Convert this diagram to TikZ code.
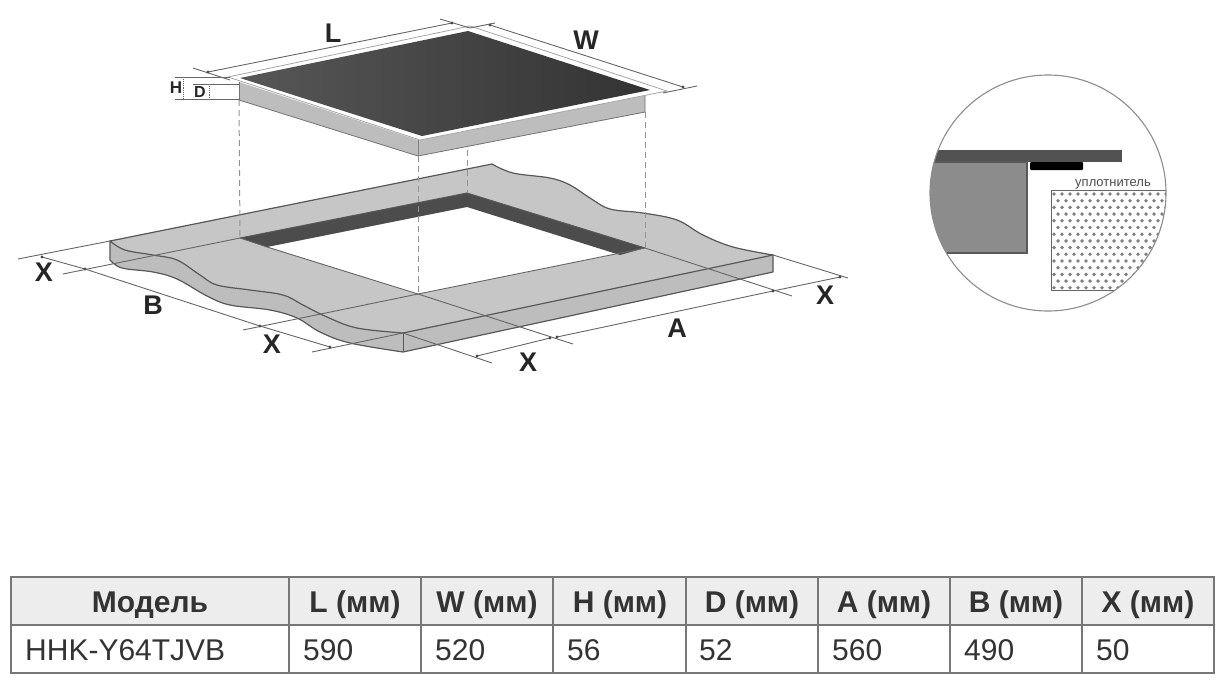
\documentclass[tikz,border=0pt]{standalone}
\usepackage{fontspec}
\setmainfont{Liberation Sans}
\definecolor{top}{HTML}{C6C6C6}
\definecolor{side}{HTML}{BDBDBD}
\definecolor{edge}{HTML}{585858}
\definecolor{dimc}{HTML}{666666}
\definecolor{wall}{HTML}{4C4C4C}
\definecolor{grid}{HTML}{777777}
\definecolor{head}{HTML}{EDEDED}
\definecolor{ink}{HTML}{333333}
\tikzset{
  dimline/.style={draw=dimc,line width=0.9pt},
  dropline/.style={draw=gray!85,line width=1pt,dash pattern=on 6pt off 4pt},
  slabedge/.style={draw=edge,line width=1.2pt,line join=round},
  dimlabel/.style={font=\bfseries\fontsize{27}{27}\selectfont,text=black!85,inner sep=0pt,draw=none},
  headcell/.style={font=\bfseries\fontsize{30}{30}\selectfont,text=ink,inner sep=0pt,anchor=base},
  bodycell/.style={font=\fontsize{30}{30}\selectfont,text=ink,inner sep=0pt,anchor=base west}
}
\begin{document}
\begin{tikzpicture}[x=1pt,y=-1pt]
\useasboundingbox (0,0) rectangle (1218,681);
% --- worktop ---
\draw[slabedge,fill=side] (110,241) -- (110,260) -- plot[smooth,tension=0.6] coordinates {(110,260) (122,268) (153,272) (177,279) (207,296) (230,305) (270,310) (297,318) (320,332) (350,343) (403,352)} -- (773,272) -- (773,255) -- cycle;
\draw[slabedge,fill=top] (110,241) -- plot[smooth,tension=0.6] coordinates {(110,241) (125,250) (153,255) (177,260) (200,275) (217,285) (250,290) (283,295) (303,305) (327,317) (357,328) (403,333)} -- (773,255) -- plot[smooth,tension=0.6] coordinates {(773,255) (733,247) (703,235) (677,220) (643,213) (610,209) (590,198) (570,185) (550,178) (513,173) (492,164)} -- cycle;
\draw[draw=edge,line width=1pt] (403,333) -- (403,352);
% hole
\fill[white] (240,238) -- (467,193) -- (645,248) -- (418,294) -- cycle;
\fill[wall] (240,238) -- (467,193) -- (467,207) -- (267,247) -- cycle;
\fill[wall] (467,193) -- (645,248) -- (620,255) -- (467,207) -- cycle;
\draw[draw=edge,line width=1pt] (240,238) -- (467,193) -- (645,248);
% extension lines over the worktop
\draw[dimline] (240,238) -- (63,274);
\draw[dimline] (645,248) -- (418,294) -- (243,330);
\draw[dimline] (403,333) -- (312,352);
\draw[dimline] (267,247) -- (418,294) -- (573,344);
\draw[dimline] (240,238) -- (267,247);
\draw[dimline] (645,248) -- (792,296);
\draw[dimline] (403,333) -- (492,363);
\draw[dimline] (773,255) -- (848,278);
\draw[dimline] (110,241) -- (18,259);
% dimension lines below
\draw[dimline] (557,337) -- (773,291);
\draw[dimline] (773,291) -- (840,277);
\draw[dimline] (477,356) -- (550,338);
\draw[dimline] (85,269) -- (260,326);
\draw[dimline] (42,257) -- (85,269);
\draw[dimline] (260,326) -- (330,347);
% --- hob ---
\draw[draw=none,fill=side] (239,82) -- (418,140) -- (645,95) -- (645,112) -- (418,156) -- (239,100) -- cycle;
\draw[draw=gray!90!black,line width=0.8pt] (239,100) -- (418,156) -- (645,112) -- (645,95);
\draw[draw=gray!90!black,line width=0.8pt] (239,82) -- (239,100);
\draw[draw=gray,line width=0.8pt] (418,140) -- (418,156);
\fill[white,draw=gray!70,line width=0.8pt] (228,77) -- (470,26) -- (667,91) -- (420,140) -- cycle;
\shade[left color=black!66,right color=black!80] (240,78) -- (468,31) -- (650,90) -- (422,136) -- cycle;
% drop lines
\draw[dropline] (239,100) -- (240,238);
\draw[dropline] (418,156) -- (418,294);
\draw[dropline] (467,150) -- (467,193);
\draw[dropline] (645,112) -- (645,248);
% hob dimensions
\draw[dimline] (208,72) -- (452,23);
\draw[dimline] (193,68) -- (230,80);
\draw[dimline] (440,19) -- (470,28);
\draw[dimline] (490,25) -- (683,87);
\draw[dimline] (470,28) -- (495,23);
\draw[dimline] (663,93) -- (697,86);
\draw[dimline] (175,77) -- (230,77);
\draw[dimline] (175,99) -- (239,99);
\draw[dimline] (193,84) -- (239,84);
\draw[dimline,densely dotted] (183,77) -- (183,99);
\draw[dimline,densely dotted] (209,84) -- (209,99);
% end marks of the dimension lines
\foreach \p in {(208,72),(452,23),(490,25),(683,87),(85,269),(260,326),(42,257),(330,347),(557,337),(550,338),(477,356),(773,291),(840,277)}{
  \fill[black!70] \p circle (1.7);
}
% labels
\node[dimlabel] (lL) at (333,33) {L};
\node[dimlabel] (lW) at (586,40) {W};
\node[dimlabel,font=\bfseries\fontsize{17}{17}\selectfont] (lH) at (176,88) {H};
\node[dimlabel,font=\bfseries\fontsize{16}{16}\selectfont] (lD) at (200,92) {D};
\node[dimlabel] (lX1) at (44,272) {X};
\node[dimlabel] (lB) at (153,305) {B};
\node[dimlabel] (lX2) at (272,344) {X};
\node[dimlabel] (lX3) at (528,362) {X};
\node[dimlabel] (lA) at (677,328) {A};
\node[dimlabel] (lX4) at (825,295) {X};
% --- detail circle ---
\begin{scope}
\clip (1048,193) circle (118);
\fill[black!68] (925,150) rectangle (1122,162);
\fill[black!45,draw=black!65,line width=1.2pt] (925,162) rectangle (1027,253);
\fill[black,rounded corners=1pt] (1030,162) rectangle (1083,170);
\draw[draw=black!60,line width=1pt,fill=white] (1051,190) rectangle (1175,290);
\begin{scope}
\clip (1051,190) rectangle (1175,290);
\foreach \r in {0,...,14}{
  \pgfmathsetmacro{\yy}{194+\r*6.7}
  \pgfmathsetmacro{\off}{mod(\r,2)*4}
  \foreach \c in {0,...,15}{
    \fill[black!50] ({1054+\off+\c*8},\yy) circle (1.9);
  }
}
\end{scope}
\end{scope}
\draw[draw=black!45,line width=1.1pt] (1048,193) circle (118);
\node[inner sep=0pt,text=black!70,font=\fontsize{13}{13}\selectfont] (seal) at (1113,184) {уплотнитель};
% --- table ---
\fill[head] (11,577) rectangle (1214,625);
\draw[draw=grid,line width=1.1pt] (11,577) rectangle (1214,673);
\draw[draw=grid,line width=1.1pt] (11,625) -- (1214,625);
\foreach \x in {289,421,553,686,818,950,1082}{
  \draw[draw=grid,line width=1.1pt] (\x,577) -- (\x,673);
}
\node[headcell] (h1) at (150,612) {Модель};
\node[headcell] (h2) at (355,612) {L (мм)};
\node[headcell] (h3) at (487,612) {W (мм)};
\node[headcell] (h4) at (620,612) {H (мм)};
\node[headcell] (h5) at (752,612) {D (мм)};
\node[headcell] (h6) at (884,612) {A (мм)};
\node[headcell] (h7) at (1016,612) {B (мм)};
\node[headcell] (h8) at (1148,612) {X (мм)};
\node[bodycell] (b1) at (25,660) {HHK-Y64TJVB};
\node[bodycell] (b2) at (303,660) {590};
\node[bodycell] (b3) at (435,660) {520};
\node[bodycell] (b4) at (567,660) {56};
\node[bodycell] (b5) at (699,660) {52};
\node[bodycell] (b6) at (832,660) {560};
\node[bodycell] (b7) at (964,660) {490};
\node[bodycell] (b8) at (1096,660) {50};
\end{tikzpicture}
\end{document}
